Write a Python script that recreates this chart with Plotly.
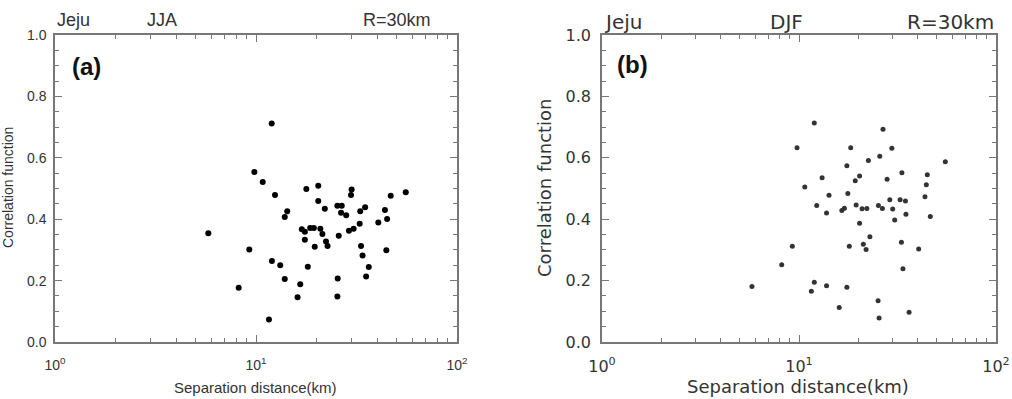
import plotly.graph_objects as go

# Panel (a) JJA
jja_dist = [11.97, 9.81, 10.8, 12.43, 17.8, 20.4, 29.9, 29.7, 55.6, 46.8,
            20.4, 22.0, 25.4, 26.7, 26.5, 28.1, 34.9, 33.0, 43.8, 44.9,
            40.6, 32.8, 30.6, 29.0, 25.8, 14.3, 13.9, 16.9, 17.5, 18.6,
            19.4, 20.9, 21.4, 17.5, 22.3, 22.7, 19.6, 5.79, 9.26, 33.3,
            33.9, 44.5, 12.0, 13.2, 18.1, 36.4, 35.3, 13.9, 25.5, 16.6,
            8.2, 16.1, 25.4, 11.6]
jja_corr = [0.712, 0.554, 0.521, 0.479, 0.498, 0.509, 0.497, 0.479, 0.488, 0.476,
            0.459, 0.434, 0.444, 0.444, 0.421, 0.413, 0.439, 0.426, 0.430, 0.401,
            0.389, 0.385, 0.369, 0.362, 0.346, 0.426, 0.407, 0.367, 0.359, 0.371,
            0.371, 0.369, 0.352, 0.333, 0.327, 0.313, 0.310, 0.354, 0.301, 0.313,
            0.282, 0.299, 0.264, 0.250, 0.245, 0.244, 0.213, 0.205, 0.207, 0.188,
            0.177, 0.146, 0.148, 0.073]

# Panel (b) DJF
djf_dist = [11.96, 26.7, 9.77, 18.3, 29.6, 25.7, 22.5, 55.3, 17.5, 33.3,
            44.8, 13.1, 20.3, 19.3, 28.0, 44.3, 10.7, 17.7, 14.2, 43.6,
            28.9, 32.6, 34.7, 12.3, 19.5, 25.3, 26.5, 29.9, 17.0, 16.5,
            20.9, 22.1, 13.8, 34.9, 46.4, 30.6, 20.3, 22.9, 33.1, 21.2,
            18.0, 9.25, 21.9, 40.5, 8.17, 33.7, 5.77, 11.96, 11.55, 13.8,
            17.5, 25.2, 16.0, 36.2, 25.5]
djf_corr = [0.713, 0.693, 0.633, 0.633, 0.631, 0.605, 0.591, 0.587, 0.574, 0.551,
            0.545, 0.535, 0.541, 0.525, 0.530, 0.512, 0.505, 0.484, 0.478, 0.473,
            0.463, 0.463, 0.459, 0.445, 0.446, 0.445, 0.435, 0.433, 0.436, 0.428,
            0.434, 0.435, 0.420, 0.416, 0.409, 0.397, 0.387, 0.343, 0.325, 0.318,
            0.312, 0.312, 0.301, 0.303, 0.252, 0.239, 0.181, 0.195, 0.165, 0.183,
            0.178, 0.134, 0.112, 0.097, 0.078]

x_tickvals = [1, 10, 100]
x_ticktext = ["10<sup>0</sup>", "10<sup>1</sup>", "10<sup>2</sup>"]
x_minor = [2, 3, 4, 5, 6, 7, 8, 9, 20, 30, 40, 50, 60, 70, 80, 90]
y_tickvals = [0.0, 0.2, 0.4, 0.6, 0.8, 1.0]
y_ticktext = ["0.0", "0.2", "0.4", "0.6", "0.8", "1.0"]

W, H = 1012, 399
def px(x):
    return x / W
def py(y):
    return 1 - y / H

LFONT = "Liberation Sans, Arial, sans-serif"
RFONT = "DejaVu Sans, sans-serif"
AX = "#777777"

fig = go.Figure()
fig.add_trace(go.Scatter(x=jja_dist, y=jja_corr, mode="markers", xaxis="x", yaxis="y",
                         marker=dict(color="#000000", size=6), showlegend=False))
fig.add_trace(go.Scatter(x=djf_dist, y=djf_corr, mode="markers", xaxis="x2", yaxis="y2",
                         marker=dict(color="#333333", size=5), showlegend=False))

def xaxis(dom, anchor, fsize, ffam):
    return dict(domain=dom, anchor=anchor, type="log", range=[0, 2],
                tickvals=x_tickvals, ticktext=x_ticktext, automargin=False,
                ticks="inside", ticklen=7, tickcolor=AX, tickwidth=1,
                minor=dict(tickvals=x_minor, ticks="inside", ticklen=4, tickcolor=AX, tickwidth=1),
                showline=True, linecolor=AX, linewidth=1.5, mirror="ticks",
                showgrid=False, zeroline=False, ticklabelstandoff=9,
                tickfont=dict(size=fsize, family=ffam, color="#333333"))

def yaxis(dom, anchor, fsize, ffam, standoff):
    return dict(domain=dom, anchor=anchor, range=[0, 1], automargin=False,
                tickvals=y_tickvals, ticktext=y_ticktext,
                ticks="inside", ticklen=7, tickcolor=AX, tickwidth=1,
                minor=dict(dtick=0.05, tick0=0, ticks="inside", ticklen=4, tickcolor=AX, tickwidth=1),
                showline=True, linecolor=AX, linewidth=1.5, mirror="ticks",
                showgrid=False, zeroline=False, ticklabelstandoff=standoff,
                tickfont=dict(size=fsize, family=ffam, color="#333333"))

ydom = [py(342), py(35)]
fig.update_layout(
    width=W, height=H, margin=dict(l=0, r=0, t=0, b=0, autoexpand=False),
    paper_bgcolor="white", plot_bgcolor="white",
    font=dict(family=RFONT, size=14, color="#333333"),
    xaxis=xaxis([px(55), px(457)], "y", 14, LFONT),
    yaxis=yaxis(ydom, "x", 14, LFONT, 4),
    xaxis2=xaxis([px(602), px(996)], "y2", 16, RFONT),
    yaxis2=yaxis(ydom, "x2", 16, RFONT, 6),
)

def ann(text, x, y, size, fam, xanchor="center", bold=False, angle=0, color="#333333"):
    fig.add_annotation(text=("<b>%s</b>" % text) if bold else text,
                       x=px(x), y=py(y), xref="paper", yref="paper",
                       xanchor=xanchor, yanchor="middle", showarrow=False,
                       textangle=angle, font=dict(size=size, family=fam, color=color))

# Left panel texts
ann("Jeju", 55, 20, 18, LFONT, xanchor="left")
ann("JJA", 162, 20, 18, LFONT)
ann("R=30km", 397, 20, 18, LFONT)
ann("(a)", 70, 66, 24, LFONT, xanchor="left", bold=True, color="#111111")
ann("Separation distance(km)", 255, 387, 15, LFONT)
ann("Correlation function", 8, 188, 14, LFONT, angle=-90)

# Right panel texts
ann("Jeju", 602, 22, 20, RFONT, xanchor="left")
ann("DJF", 786, 22, 20, RFONT)
ann("R=30km", 996, 22, 20, RFONT, xanchor="right")
ann("(b)", 615, 65, 24, LFONT, xanchor="left", bold=True, color="#111111")
ann("Separation distance(km)", 798, 386, 18, RFONT)
ann("Correlation function", 544, 188, 18, RFONT, angle=-90)

fig.write_html("out.html")
